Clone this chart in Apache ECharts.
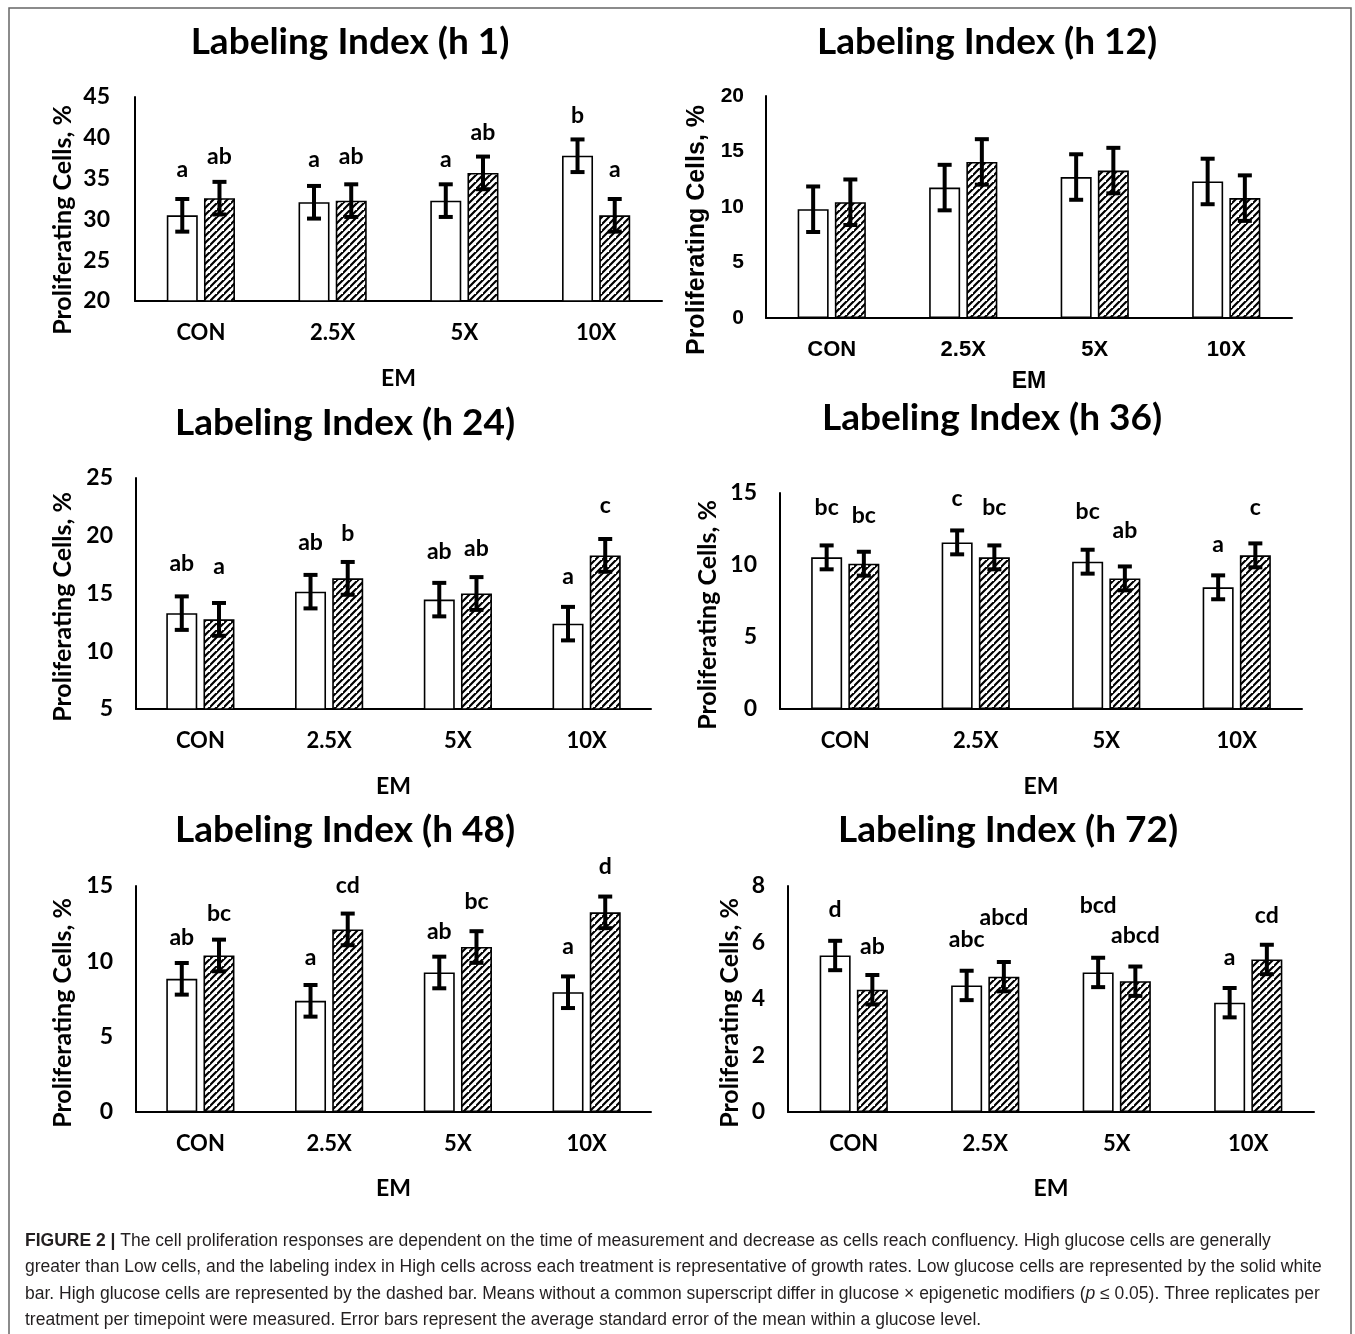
<!DOCTYPE html>
<html>
<head>
<meta charset="utf-8">
<script src="https://cdn.jsdelivr.net/npm/echarts@6/dist/echarts.min.js"></script>
<style>
html,body{margin:0;padding:0;background:#fff;}
#chart{width:1355px;height:1334px;}
</style>
</head>
<body>
<div id="chart"></div>
<script>
// ---------- DATA ----------
const categories = ['CON', '2.5X', '5X', '10X'];

const h1Low  = [30.5, 32.1, 32.3, 37.8];
const h1High = [32.6, 32.3, 35.7, 30.5];
const h1ErrLow  = [2.0, 2.0, 2.0, 2.0];
const h1ErrHigh = [2.0, 2.0, 2.0, 2.0];
const h1LowLetters  = ['a', 'a', 'a', 'b'];
const h1HighLetters = ['ab', 'ab', 'ab', 'a'];
const h1LowLetterY  = [36.1, 37.3, 37.3, 42.7];
const h1HighLetterY = [37.7, 37.7, 40.6, 36.1];
const h1Ticks = [20, 45, 5];

const h12Low  = [9.8, 11.75, 12.7, 12.3];
const h12High = [10.43, 14.06, 13.28, 10.8];
const h12ErrLow  = [2.05, 2.05, 2.05, 2.05];
const h12ErrHigh = [2.05, 2.05, 2.05, 2.05];
const h12LowLetters  = ['', '', '', ''];
const h12HighLetters = ['', '', '', ''];
const h12LowLetterY  = [0, 0, 0, 0];
const h12HighLetterY = [0, 0, 0, 0];
const h12Ticks = [0, 20, 5];

const h24Low  = [13.3, 15.16, 14.47, 12.39];
const h24High = [12.76, 16.31, 15.0, 18.3];
const h24ErrLow  = [1.45, 1.45, 1.45, 1.45];
const h24ErrHigh = [1.42, 1.42, 1.42, 1.42];
const h24LowLetters  = ['ab', 'ab', 'ab', 'a'];
const h24HighLetters = ['a', 'b', 'ab', 'c'];
const h24LowLetterY  = [17.6, 19.4, 18.65, 16.5];
const h24HighLetterY = [17.3, 20.2, 18.9, 22.6];
const h24Ticks = [5, 25, 5];

const h36Low  = [10.53, 11.57, 10.23, 8.45];
const h36High = [10.09, 10.53, 9.07, 10.67];
const h36ErrLow  = [0.83, 0.83, 0.83, 0.83];
const h36ErrHigh = [0.83, 0.83, 0.83, 0.83];
const h36LowLetters  = ['bc', 'c', 'bc', 'a'];
const h36HighLetters = ['bc', 'bc', 'ab', 'c'];
const h36LowLetterY  = [13.96, 14.58, 13.73, 11.41];
const h36HighLetterY = [13.43, 14.0, 12.4, 14.0];
const h36Ticks = [0, 15, 5];

const h48Low  = [8.84, 7.38, 9.26, 7.95];
const h48High = [10.39, 12.12, 10.95, 13.25];
const h48ErrLow  = [1.05, 1.05, 1.05, 1.05];
const h48ErrHigh = [1.05, 1.05, 1.05, 1.05];
const h48LowLetters  = ['ab', 'a', 'ab', 'a'];
const h48HighLetters = ['bc', 'cd', 'bc', 'd'];
const h48LowLetterY  = [11.59, 10.26, 12.0, 10.97];
const h48HighLetterY = [13.14, 15.0, 13.96, 16.3];
const h48Ticks = [0, 15, 5];

const h72Low  = [5.54, 4.48, 4.94, 3.87];
const h72High = [4.33, 4.79, 4.63, 5.40];
const h72ErrLow  = [0.52, 0.52, 0.52, 0.52];
const h72ErrHigh = [0.52, 0.52, 0.52, 0.52];
const h72LowLetters  = ['d', 'abc', 'bcd', 'a'];
const h72HighLetters = ['ab', 'abcd', 'abcd', 'cd'];
const h72LowLetterY  = [7.17, 6.09, 7.29, 5.47];
const h72HighLetterY = [5.87, 6.89, 6.23, 6.94];
const h72Ticks = [0, 8, 2];

const panelTitles = ['Labeling Index (h 1)', 'Labeling Index (h 12)', 'Labeling Index (h 24)',
                     'Labeling Index (h 36)', 'Labeling Index (h 48)', 'Labeling Index (h 72)'];
const yAxisName = 'Proliferating Cells, %';
const xAxisName = 'EM';

const captionLines = [
  '{b|FIGURE 2 |} The cell proliferation responses are dependent on the time of measurement and decrease as cells reach confluency. High glucose cells are generally',
  'greater than Low cells, and the labeling index in High cells across each treatment is representative of growth rates. Low glucose cells are represented by the solid white',
  'bar. High glucose cells are represented by the dashed bar. Means without a common superscript differ in glucose \u00d7 epigenetic modifiers ({i|p} \u2264 0.05). Three replicates per',
  'treatment per timepoint were measured. Error bars represent the average standard error of the mean within a glucose level.'
];

const panelsData = [
  {low: h1Low, high: h1High, errLow: h1ErrLow, errHigh: h1ErrHigh, lowL: h1LowLetters, highL: h1HighLetters, lowY: h1LowLetterY, highY: h1HighLetterY, ticks: h1Ticks},
  {low: h12Low, high: h12High, errLow: h12ErrLow, errHigh: h12ErrHigh, lowL: h12LowLetters, highL: h12HighLetters, lowY: h12LowLetterY, highY: h12HighLetterY, ticks: h12Ticks},
  {low: h24Low, high: h24High, errLow: h24ErrLow, errHigh: h24ErrHigh, lowL: h24LowLetters, highL: h24HighLetters, lowY: h24LowLetterY, highY: h24HighLetterY, ticks: h24Ticks},
  {low: h36Low, high: h36High, errLow: h36ErrLow, errHigh: h36ErrHigh, lowL: h36LowLetters, highL: h36HighLetters, lowY: h36LowLetterY, highY: h36HighLetterY, ticks: h36Ticks},
  {low: h48Low, high: h48High, errLow: h48ErrLow, errHigh: h48ErrHigh, lowL: h48LowLetters, highL: h48HighLetters, lowY: h48LowLetterY, highY: h48HighLetterY, ticks: h48Ticks},
  {low: h72Low, high: h72High, errLow: h72ErrLow, errHigh: h72ErrHigh, lowL: h72LowLetters, highL: h72HighLetters, lowY: h72LowLetterY, highY: h72HighLetterY, ticks: h72Ticks}
];

// ---------- LAYOUT / STYLE ----------
const layout = [
  {grid: {left: 135, top: 97, width: 527, height: 204}, title: [350, 42], yName: [63, 220], font: 'Lato', tick: 23, lab: 22, nameGap: 66, yMargin: 25},
  {grid: {left: 766, top: 96, width: 526, height: 222}, title: [987, 42], yName: [697, 230], font: 'Liberation Sans', tick: 21, lab: 22, nameGap: 52, yMargin: 22},
  {grid: {left: 136, top: 478, width: 515, height: 231}, title: [345, 423], yName: [63, 607], font: 'Lato', tick: 23, lab: 22, nameGap: 66, yMargin: 23},
  {grid: {left: 780, top: 493, width: 522, height: 216}, title: [992, 418], yName: [708, 615], font: 'Lato', tick: 23, lab: 22, nameGap: 66, yMargin: 23},
  {grid: {left: 136, top: 886, width: 515, height: 226}, title: [345, 830], yName: [63, 1013], font: 'Lato', tick: 23, lab: 22, nameGap: 65, yMargin: 23},
  {grid: {left: 788, top: 886, width: 526, height: 226}, title: [1008, 830], yName: [730, 1013], font: 'Lato', tick: 23, lab: 22, nameGap: 65, yMargin: 23}
];
const BAR_W = 31;
const BAR_GAP = 0.2;
const OFF = (BAR_W + BAR_W * BAR_GAP) / 2;

function makeHatch() {
  const s = 7;
  const c = document.createElement('canvas');
  c.width = s; c.height = s;
  const g = c.getContext('2d');
  g.fillStyle = '#fff';
  g.fillRect(0, 0, s, s);
  g.strokeStyle = '#000';
  g.lineWidth = 2.2;
  g.beginPath();
  g.moveTo(-1, s + 1); g.lineTo(s + 1, -1);
  g.moveTo(-1 - s, s + 1); g.lineTo(1, -1);
  g.moveTo(s - 1, 2 * s + 1); g.lineTo(2 * s + 1, s - 1);
  g.stroke();
  return c;
}
const hatch = makeHatch();

const chart = echarts.init(document.getElementById('chart'), null, {renderer: 'canvas'});

const grids = [], xAxes = [], yAxes = [], series = [], graphics = [];

function errRenderer(side, letters, letterY, font) {
  return function (params, api) {
    const i = api.value(0), v = api.value(1), e = api.value(2);
    const hi = api.coord([i, v + e]);
    const lo = api.coord([i, v - e]);
    const x = hi[0] + side * OFF;
    const cap = 7;
    const st = {stroke: '#000', lineWidth: 4};
    const children = [
      {type: 'line', shape: {x1: x, y1: hi[1], x2: x, y2: lo[1]}, style: st},
      {type: 'line', shape: {x1: x - cap, y1: hi[1], x2: x + cap, y2: hi[1]}, style: st},
      {type: 'line', shape: {x1: x - cap, y1: lo[1], x2: x + cap, y2: lo[1]}, style: st}
    ];
    const t = letters[params.dataIndex];
    if (t) {
      const p = api.coord([i, letterY[params.dataIndex]]);
      children.push({type: 'text', style: {text: t, x: x, y: p[1], align: 'center', verticalAlign: 'middle',
        font: 'bold 23px ' + font, fill: '#000'}});
    }
    return {type: 'group', children: children};
  };
}

panelsData.forEach(function (d, k) {
  const L = layout[k];
  grids.push(Object.assign({containLabel: false}, L.grid));
  const axisFont = {fontFamily: L.font, fontWeight: 'bold', color: '#000'};
  xAxes.push({
    type: 'category', gridIndex: k, data: categories,
    axisLine: {lineStyle: {color: '#000', width: 2}},
    axisTick: {show: false},
    axisLabel: Object.assign({fontSize: L.lab, margin: 21}, axisFont),
    name: xAxisName, nameLocation: 'middle', nameGap: L.nameGap,
    nameTextStyle: Object.assign({fontSize: 23}, axisFont)
  });
  yAxes.push({
    type: 'value', gridIndex: k, min: d.ticks[0], max: d.ticks[1], interval: d.ticks[2],
    axisLine: {show: true, lineStyle: {color: '#000', width: 2}},
    axisTick: {show: false}, splitLine: {show: false},
    axisLabel: Object.assign({fontSize: L.tick, margin: L.yMargin}, axisFont)
  });
  series.push({
    type: 'bar', xAxisIndex: k, yAxisIndex: k, data: d.low, barWidth: BAR_W, barGap: (BAR_GAP * 100) + '%',
    itemStyle: {color: '#fff', borderColor: '#000', borderWidth: 1.6}, silent: true, animation: false
  });
  series.push({
    type: 'bar', xAxisIndex: k, yAxisIndex: k, data: d.high, barWidth: BAR_W, barGap: (BAR_GAP * 100) + '%',
    itemStyle: {color: {image: hatch, repeat: 'repeat'}, borderColor: '#000', borderWidth: 1.6}, silent: true, animation: false
  });
  series.push({
    type: 'custom', xAxisIndex: k, yAxisIndex: k, z: 5, clip: false, animation: false, silent: true,
    data: d.low.map(function (v, i) { return [i, v, d.errLow[i]]; }),
    encode: {x: 0, y: 1},
    renderItem: errRenderer(-1, d.lowL, d.lowY, 'Lato')
  });
  series.push({
    type: 'custom', xAxisIndex: k, yAxisIndex: k, z: 5, clip: false, animation: false, silent: true,
    data: d.high.map(function (v, i) { return [i, v, d.errHigh[i]]; }),
    encode: {x: 0, y: 1},
    renderItem: errRenderer(1, d.highL, d.highY, 'Lato')
  });
  graphics.push({type: 'text', x: L.title[0], y: L.title[1], silent: true,
    style: {text: panelTitles[k], font: 'bold 37px Lato', fill: '#000', align: 'center', verticalAlign: 'middle'}});
  graphics.push({type: 'text', x: L.yName[0], y: L.yName[1], rotation: Math.PI / 2, silent: true,
    style: {text: yAxisName, font: 'bold 25px ' + L.font, fill: '#000', align: 'center', verticalAlign: 'middle'}});
});

// outer frame
graphics.push({type: 'rect', shape: {x: 9, y: 8, width: 1342, height: 1340}, silent: true,
  style: {fill: 'none', stroke: '#666', lineWidth: 1.5}});

const capY = [1241, 1267, 1294, 1320];
captionLines.forEach(function (t, i) {
  graphics.push({type: 'text', x: 25, y: capY[i], silent: true,
    style: {text: t, font: '17.5px "Liberation Sans"', fill: '#231f20', align: 'left', verticalAlign: 'middle',
      rich: {b: {font: 'bold 17.5px "Liberation Sans"', fill: '#231f20'}, i: {font: 'italic 17.5px "Liberation Sans"', fill: '#231f20'}}}});
});

chart.setOption({
  animation: false,
  backgroundColor: '#fff',
  grid: grids, xAxis: xAxes, yAxis: yAxes, series: series,
  graphic: graphics
});
</script>
</body>
</html>
